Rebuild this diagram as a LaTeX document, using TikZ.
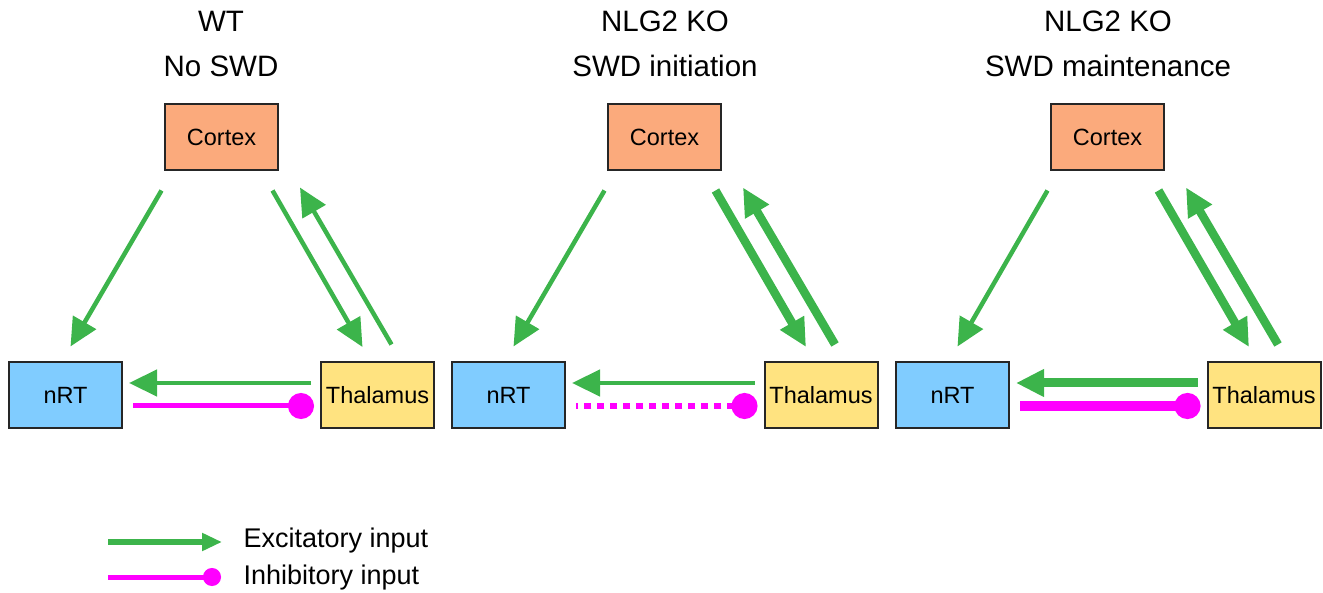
\documentclass[tikz,border=0pt]{standalone}
\usepackage{fontspec}
\setmainfont{Liberation Sans}
\usetikzlibrary{arrows.meta,calc}
\definecolor{cortexc}{HTML}{FBAA7C}
\definecolor{nrtc}{HTML}{80CCFF}
\definecolor{thalc}{HTML}{FFE380}
\definecolor{exc}{HTML}{3CB44B}
\definecolor{inhc}{HTML}{FF00FF}
\begin{document}
\begin{tikzpicture}[x=1pt,y=-1pt,
  box/.style={draw=black!85,line width=2pt,minimum width=113pt,minimum height=66pt,inner sep=0pt,
    font=\fontsize{23.5}{27}\selectfont},
  cortexbox/.style={box,fill=cortexc},
  nrtbox/.style={box,fill=nrtc},
  thalbox/.style={box,fill=thalc},
  title/.style={font=\fontsize{29.5}{33}\selectfont,anchor=base},
  exarrow/.style={draw=exc,line width=4.5pt,-{Triangle[length=28pt,width=26pt]}},
  exthick/.style={exarrow,line width=8.5pt},
  exthicker/.style={exarrow,line width=9pt},
  inharrow/.style={draw=inhc,line width=5pt,{Circle[length=26pt]}-},
  inhdotted/.style={inharrow,line width=5.5pt,dash pattern=on 7pt off 6pt},
  inhthick/.style={inharrow,line width=10pt},
  legtext/.style={font=\fontsize{27}{31}\selectfont,anchor=base west}
]
\useasboundingbox (0,0) rectangle (1323,593);

% ---------- Panel 1 ----------
\node[title] (t1a) at (221,31.7) {WT};
\node[title] (t1b) at (221,76.7) {No SWD};
\node[cortexbox] (c1) at (221.5,137) {Cortex};
\node[nrtbox] (n1) at (65.5,395.5) {nRT};
\node[thalbox] (h1) at (377.5,395.5) {Thalamus};

% ---------- Panel 2 ----------
\node[title] (t2a) at (665,31.7) {NLG2 KO};
\node[title] (t2b) at (665,76.7) {SWD initiation};
\node[cortexbox] (c2) at (664.5,137) {Cortex};
\node[nrtbox] (n2) at (508.5,395.5) {nRT};
\node[thalbox] (h2) at (821,395.5) {Thalamus};

% ---------- Panel 3 ----------
\node[title] (t3a) at (1108,31.7) {NLG2 KO};
\node[title] (t3b) at (1108,76.7) {SWD maintenance};
\node[cortexbox] (c3) at (1107.5,137) {Cortex};
\node[nrtbox] (n3) at (952.5,395.5) {nRT};
\node[thalbox] (h3) at (1264,395.5) {Thalamus};

% ---------- connectors panel 1 ----------
\draw[exarrow] ($(c1.south)+(-60,19.5)$) -- ($(n1.north)+(5,-15)$);
\draw[exarrow] ($(c1.south)+(51,19.5)$) -- ($(h1.north)+(-15,-14.5)$);
\draw[exarrow] ($(h1.north)+(14,-17)$) -- ($(c1.south)+(78.5,16.5)$);
\draw[exarrow] ($(h1.west)+(-9,-12.5)$) -- ($(n1.east)+(6,-12.5)$);
\draw[inharrow] ($(h1.west)+(-6,10.5)$) -- ($(n1.east)+(10,10.5)$);

% ---------- connectors panel 2 ----------
\draw[exarrow] ($(c2.south)+(-60,19.5)$) -- ($(n2.north)+(5,-15)$);
\draw[exthick] ($(c2.south)+(51,19.5)$) -- ($(h2.north)+(-15,-14.5)$);
\draw[exthick] ($(h2.north)+(14,-17)$) -- ($(c2.south)+(78.5,16.5)$);
\draw[exarrow] ($(h2.west)+(-9,-12.5)$) -- ($(n2.east)+(6,-12.5)$);
\draw[inhdotted] ($(h2.west)+(-6,10.5)$) -- ($(n2.east)+(10,10.5)$);

% ---------- connectors panel 3 ----------
\draw[exarrow] ($(c3.south)+(-60,19.5)$) -- ($(n3.north)+(5,-15)$);
\draw[exthick] ($(c3.south)+(51,19.5)$) -- ($(h3.north)+(-15,-14.5)$);
\draw[exthick] ($(h3.north)+(14,-17)$) -- ($(c3.south)+(78.5,16.5)$);
\draw[exthicker] ($(h3.west)+(-9,-12.5)$) -- ($(n3.east)+(6,-12.5)$);
\draw[inhthick] ($(h3.west)+(-6,10.5)$) -- ($(n3.east)+(10,10.5)$);

% ---------- legend ----------
\node[legtext] (l1) at (240,547.7) {Excitatory input};
\node[legtext] (l2) at (240,584) {Inhibitory input};
\coordinate (l1s) at (108,542);
\coordinate (l1e) at (222,542);
\coordinate (l2s) at (108,577);
\coordinate (l2e) at (221,577);
\draw[draw=exc,line width=5.5pt,-{Triangle[length=20pt,width=17pt]}] (l1s) -- (l1e);
\draw[draw=inhc,line width=5pt,-{Circle[length=18pt]}] (l2s) -- (l2e);
\end{tikzpicture}
\end{document}
